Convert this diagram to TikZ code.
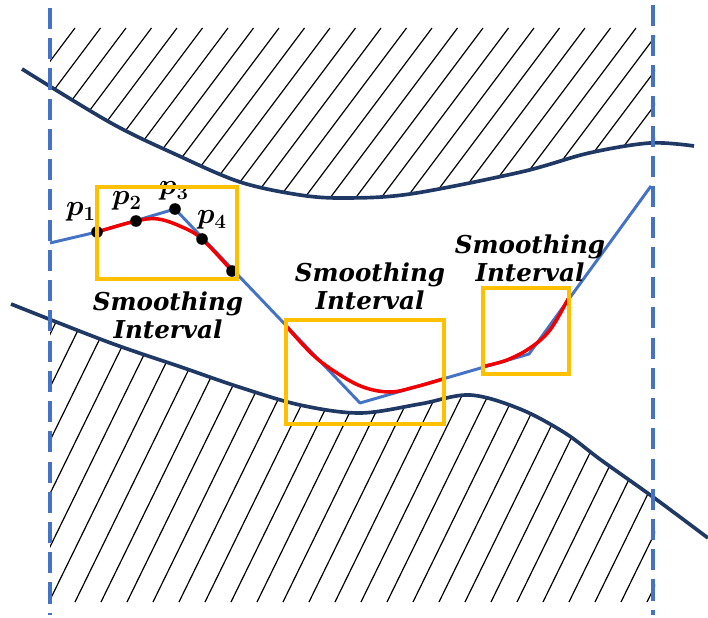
\documentclass[tikz,border=0pt]{standalone}
\usepackage{amsmath}
\usepackage{bm}
\usepackage{fontspec}
\usepackage{tikz}
\usetikzlibrary{fit}
\newfontfamily\lblserif{DejaVu Serif}
\definecolor{pathblue}{RGB}{68,114,196}
\definecolor{wallnavy}{RGB}{31,56,100}
\definecolor{boxorange}{RGB}{255,192,0}
\definecolor{smoothred}{RGB}{240,0,0}

% obstacle boundaries (pixel-like units)
\newcommand{\topwall}{plot[smooth, tension=0.55] coordinates {(22,69) (111,123) (177,155) (240,182) (300,195) (345,198) (410,194) (521,172) (589,153) (650,143) (694,146)}}
\newcommand{\botwall}{plot[smooth, tension=0.55] coordinates {(11,304) (108,342) (181,367) (239,387) (300,405) (360,413) (420,404) (470,395) (520,409) (565,433) (601,460) (653,497) (708,538)}}

\begin{document}
\begin{tikzpicture}[x=0.025cm, y=-0.025cm,
    wall/.style={wallnavy, line width=2.6pt},
    hatch/.style={black, line width=0.85pt},
    guide/.style={pathblue, line width=2.4pt, dash pattern=on 15pt off 6.5pt},
    route/.style={pathblue, line width=2.1pt, line join=round},
    smoothed/.style={smoothred, line width=2.5pt, line cap=round},
    interval/.style={draw=boxorange, line width=2.5pt, inner sep=0pt},
    dot/.style={circle, fill=black, inner sep=0pt, minimum size=0.29cm},
    ptlabel/.style={font=\fontsize{22}{24}\selectfont},
    intlabel/.style={font=\fontsize{17.5}{20}\selectfont\lblserif\bfseries\itshape, align=center}]
    \useasboundingbox (0,0) rectangle (708,617);
    % --- Hatching above the upper wall ---
    \begin{scope}
      \clip (50,28) rectangle (655,260);
      \clip \topwall -- (708,0) -- (0,0) -- cycle;
      \foreach \i in {-12,...,26} {
        \draw[hatch] ({75+25.5*\i},28) -- ++(-150,200);
      }
    \end{scope}
    % --- Hatching below the lower wall ---
    \begin{scope}
      \clip (50,280) rectangle (655,602);
      \clip \botwall -- (708,617) -- (0,617) -- cycle;
      \foreach \i in {-8,...,30} {
        \draw[hatch] ({49+26*\i},602) -- ++(160,-327);
      }
    \end{scope}
    % --- Walls ---
    \draw[wall] \topwall;
    \draw[wall] \botwall;
    % --- Borders (dashed) ---
    \coordinate (gl1) at (50,8);
    \coordinate (gl2) at (50,615);
    \coordinate (gr1) at (653,5);
    \coordinate (gr2) at (653,615);
    \draw[guide] (gl1) -- (gl2);
    \draw[guide] (gr1) -- (gr2);
    % --- Raw path ---
    \coordinate (r0) at (50,243);
    \coordinate (c1) at (97,232);
    \coordinate (c2) at (136,221);
    \coordinate (c3) at (175,209);
    \coordinate (c4) at (202,239);
    \coordinate (c5) at (232,271);
    \coordinate (r1) at (360,403);
    \coordinate (r2) at (529,354);
    \coordinate (r3) at (651,186);
    \draw[route] (r0) -- (c1) -- (c3) -- (r1) -- (r2) -- (r3);
    % --- Smoothed pieces ---
    \draw[smoothed] plot[smooth, tension=0.6] coordinates {(c1) (c2) (158,219) (182,227) (c4) (c5)};
    \draw[smoothed] plot[smooth, tension=0.6] coordinates {(287,327) (313,355) (337,373) (363,387) (390,392) (415,387) (443,379)};
    \draw[smoothed] plot[smooth, tension=0.6] coordinates {(485,366) (507,360) (530,348) (550,330) (568,299)};
    % --- Points ---
    \node[dot] (p1) at (c1) {};
    \node[dot] (p2) at (c2) {};
    \node[dot] (p3) at (c3) {};
    \node[dot] (p4) at (c4) {};
    \node[dot] (p5) at (c5) {};
    \node[ptlabel] (lp1) at (81,212) {$\bm{p}_{\bm{1}}$};
    \node[ptlabel] (lp2) at (127,201) {$\bm{p}_{\bm{2}}$};
    \node[ptlabel] (lp3) at (174,191) {$\bm{p}_{\bm{3}}$};
    \node[ptlabel] (lp4) at (212,220) {$\bm{p}_{\bm{4}}$};
    % --- Intervals ---
    \node[interval, fit={(97,187) (237,279)}] (box1) {};
    \node[interval, fit={(286,320) (444,424)}] (box2) {};
    \node[interval, fit={(483,288) (569,374)}] (box3) {};
    \node[intlabel] (int1) at (168,315) {Smoothing\\Interval};
    \node[intlabel] (int2) at (370,286) {Smoothing\\Interval};
    \node[intlabel] (int3) at (530,258) {Smoothing\\Interval};
\end{tikzpicture}
\end{document}
